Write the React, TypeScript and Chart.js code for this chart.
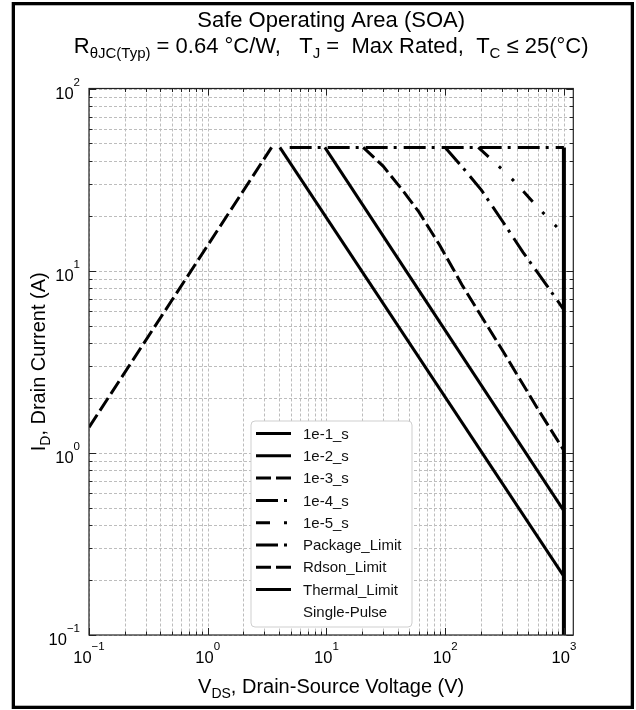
import { useEffect, useRef } from 'react';
import { Chart, registerables } from 'chart.js';

Chart.register(...registerables);

const FONT = '"Liberation Sans", Arial, Helvetica, sans-serif';

// Axis extents (log-log)
const V_MIN = 0.1;
const V_MAX = 1200;
const I_MIN = 0.1;
const I_MAX = 100;

// Decade tick labels (powers of ten) and minor steps within a decade
const xTickExponents = [-1, 0, 1, 2, 3];
const yTickExponents = [-1, 0, 1, 2];
const decadeSteps = [1, 2, 3, 4, 5, 6, 7, 8, 9];

// Pulse-width limited curves: drain-source voltage (V) / drain current (A)
const t1e1V = [4.05, 1000];
const t1e1I = [47.5, 0.21];
const t1e2V = [9.7, 1000];
const t1e2I = [47.5, 0.48];
const t1e3V = [20.4, 30, 45, 60, 90, 141, 300, 600, 1000];
const t1e3I = [47.5, 37.5, 27, 21, 13.8, 8.2, 3.7, 1.75, 1.03];
const t1e4V = [100, 150, 202, 307, 453, 690, 1000];
const t1e4I = [47.5, 35, 27.7, 18.5, 12.6, 8.6, 6.1];
const t1e5V = [190, 245, 307, 373, 459, 579, 713, 855, 1000];
const t1e5I = [47.5, 40.8, 35.6, 31.4, 27.1, 22.9, 19.9, 17.6, 15.8];

// Boundary limits
const packageV = [4.9, 1000];
const packageI = [47.5, 47.5];
const rdsonV = [0.1, 3.45];
const rdsonI = [1.38, 47.5];
const thermalV = [1000, 1000];
const thermalI = [47.5, 0.1];

const seriesLabels = ['1e-1_s', '1e-2_s', '1e-3_s', '1e-4_s', '1e-5_s', 'Package_Limit', 'Rdson_Limit', 'Thermal_Limit'];
const noteLabel = 'Single-Pulse';

const SOLID: number[] = [];
const DASHED = [15, 5];
const DASHDOT = [22, 6, 3, 7];
const DASHDOTDOT = [14, 14, 3, 15, 3, 14];

const seriesV = [t1e1V, t1e2V, t1e3V, t1e4V, t1e5V, packageV, rdsonV, thermalV];
const seriesI = [t1e1I, t1e2I, t1e3I, t1e4I, t1e5I, packageI, rdsonI, thermalI];
const seriesDash = [SOLID, SOLID, DASHED, DASHDOT, DASHDOTDOT, DASHDOT, DASHED, SOLID];
const seriesWidth = [3, 3, 3, 3, 3, 3, 3, 4];

type Seg = { t: string; s: number; dy?: number };

function measureSegs(ctx: CanvasRenderingContext2D, segs: Seg[]) {
  let w = 0;
  for (const g of segs) {
    ctx.font = `${g.s}px ${FONT}`;
    w += ctx.measureText(g.t).width;
  }
  return w;
}

function drawSegs(ctx: CanvasRenderingContext2D, segs: Seg[], x: number, y: number, align: 'left' | 'center' | 'right') {
  const w = measureSegs(ctx, segs);
  let cx = align === 'left' ? x : align === 'center' ? x - w / 2 : x - w;
  ctx.textAlign = 'left';
  ctx.textBaseline = 'alphabetic';
  for (const g of segs) {
    ctx.font = `${g.s}px ${FONT}`;
    ctx.fillText(g.t, cx, y + (g.dy || 0));
    cx += ctx.measureText(g.t).width;
  }
}

const gridValues = (minExp: number, maxExp: number, lo: number, hi: number) => {
  const out: number[] = [];
  for (let e = minExp; e <= maxExp; e++) {
    for (const m of decadeSteps) {
      const v = m * Math.pow(10, e);
      if (v >= lo * 0.9999 && v <= hi * 1.0001) out.push(v);
    }
  }
  return out;
};

const powerLabel = (e: number): Seg[] => [
  { t: '10', s: 16.5 },
  { t: e < 0 ? '\u2212' + Math.abs(e) : String(e), s: 11.5, dy: -13 },
];

const soaDecor = {
  id: 'soaDecor',
  beforeDatasetsDraw(chart: any) {
    const { ctx, chartArea: a, scales } = chart;
    const xs = scales.x;
    const ys = scales.y;
    ctx.save();
    ctx.fillStyle = '#ffffff';
    ctx.fillRect(a.left, a.top, a.right - a.left, a.bottom - a.top);
    ctx.strokeStyle = '#bdbdbd';
    ctx.lineWidth = 1;
    ctx.setLineDash([3, 2]);
    for (const v of gridValues(-1, 3, V_MIN, V_MAX)) {
      const px = Math.round(xs.getPixelForValue(v)) + 0.5;
      ctx.beginPath();
      ctx.moveTo(px, a.top);
      ctx.lineTo(px, a.bottom);
      ctx.stroke();
    }
    for (const v of gridValues(-1, 2, I_MIN, I_MAX)) {
      const py = Math.round(ys.getPixelForValue(v)) + 0.5;
      ctx.beginPath();
      ctx.moveTo(a.left, py);
      ctx.lineTo(a.right, py);
      ctx.stroke();
    }
    ctx.restore();
  },
  afterDraw(chart: any) {
    const { ctx, chartArea: a, scales } = chart;
    const xs = scales.x;
    const ys = scales.y;
    ctx.save();
    ctx.setLineDash([]);

    // Spines
    ctx.strokeStyle = '#222222';
    ctx.lineWidth = 1.2;
    ctx.strokeRect(a.left, a.top, a.right - a.left, a.bottom - a.top);

    // Inward ticks on all four sides
    ctx.lineWidth = 1;
    for (const v of gridValues(-1, 3, V_MIN, V_MAX)) {
      const major = Math.abs(Math.log10(v) - Math.round(Math.log10(v))) < 1e-6;
      const len = major ? 7 : 3.5;
      const px = Math.round(xs.getPixelForValue(v)) + 0.5;
      ctx.beginPath();
      ctx.moveTo(px, a.bottom);
      ctx.lineTo(px, a.bottom - len);
      ctx.moveTo(px, a.top);
      ctx.lineTo(px, a.top + len);
      ctx.stroke();
    }
    for (const v of gridValues(-1, 2, I_MIN, I_MAX)) {
      const major = Math.abs(Math.log10(v) - Math.round(Math.log10(v))) < 1e-6;
      const len = major ? 7 : 3.5;
      const py = Math.round(ys.getPixelForValue(v)) + 0.5;
      ctx.beginPath();
      ctx.moveTo(a.left, py);
      ctx.lineTo(a.left + len, py);
      ctx.moveTo(a.right, py);
      ctx.lineTo(a.right - len, py);
      ctx.stroke();
    }

    // Decade labels
    ctx.fillStyle = '#000000';
    for (const e of xTickExponents) {
      const px = xs.getPixelForValue(Math.pow(10, e));
      drawSegs(ctx, powerLabel(e), px, a.bottom + 28, 'center');
    }
    for (const e of yTickExponents) {
      const py = ys.getPixelForValue(Math.pow(10, e));
      drawSegs(ctx, powerLabel(e), a.left - 9, py + 10, 'right');
    }

    // Axis titles
    drawSegs(ctx, [
      { t: 'V', s: 20 },
      { t: 'DS', s: 14, dy: 5 },
      { t: ', Drain-Source Voltage (V)', s: 20 },
    ], (a.left + a.right) / 2, a.bottom + 58, 'center');

    ctx.save();
    ctx.translate(45, (a.top + a.bottom) / 2);
    ctx.rotate(-Math.PI / 2);
    drawSegs(ctx, [
      { t: 'I', s: 20 },
      { t: 'D', s: 14, dy: 5 },
      { t: ', Drain Current (A)', s: 20 },
    ], 0, 0, 'center');
    ctx.restore();

    // Title
    const cx = (a.left + a.right) / 2;
    drawSegs(ctx, [{ t: 'Safe Operating Area (SOA)', s: 22 }], cx, 27, 'center');
    drawSegs(ctx, [
      { t: 'R', s: 22 },
      { t: '\u03b8JC(Typ)', s: 15, dy: 5 },
      { t: ' = 0.64 \u00b0C/W,   T', s: 22 },
      { t: 'J', s: 15, dy: 5 },
      { t: ' =  Max Rated,  T', s: 22 },
      { t: 'C', s: 15, dy: 5 },
      { t: ' \u2264 25(\u00b0C)', s: 22 },
    ], cx, 53, 'center');

    // Legend
    const lx = 251, ly = 421, lw = 161, lh = 206, r = 4;
    ctx.beginPath();
    ctx.moveTo(lx + r, ly);
    ctx.arcTo(lx + lw, ly, lx + lw, ly + lh, r);
    ctx.arcTo(lx + lw, ly + lh, lx, ly + lh, r);
    ctx.arcTo(lx, ly + lh, lx, ly, r);
    ctx.arcTo(lx, ly, lx + lw, ly, r);
    ctx.closePath();
    ctx.fillStyle = '#ffffff';
    ctx.fill();
    ctx.strokeStyle = '#cfcfcf';
    ctx.lineWidth = 1;
    ctx.stroke();

    const rowTop = 433.5;
    const rowStep = 22.3;
    const entries = [...seriesLabels, noteLabel];
    entries.forEach((label, i) => {
      const yy = rowTop + i * rowStep;
      if (i < seriesLabels.length) {
        ctx.save();
        ctx.strokeStyle = '#000000';
        ctx.lineWidth = 3;
        ctx.lineCap = 'butt';
        ctx.setLineDash(seriesDash[i]);
        ctx.beginPath();
        ctx.moveTo(256, yy);
        ctx.lineTo(291, yy);
        ctx.stroke();
        ctx.restore();
      }
      ctx.fillStyle = '#111111';
      ctx.font = `15px ${FONT}`;
      ctx.textAlign = 'left';
      ctx.textBaseline = 'middle';
      ctx.fillText(label, 303, yy + 1);
    });

    // Outer frame
    ctx.strokeStyle = '#000000';
    ctx.lineWidth = 3.3;
    ctx.setLineDash([]);
    ctx.strokeRect(13.35, 3.65, 619, 703.7);
    ctx.restore();
  },
};

export default function App() {
  const ref = useRef<HTMLCanvasElement>(null);

  useEffect(() => {
    if (!ref.current) return;
    const datasets = seriesLabels.map((label, i) => ({
      label,
      data: seriesV[i].map((v, k) => ({ x: v, y: seriesI[i][k] })),
      borderColor: '#000000',
      backgroundColor: '#000000',
      borderWidth: seriesWidth[i],
      borderDash: seriesDash[i],
      borderCapStyle: 'butt' as const,
      borderJoinStyle: 'miter' as const,
      pointRadius: 0,
      pointHoverRadius: 0,
      fill: false,
      tension: 0,
    }));

    const chart = new Chart(ref.current, {
      type: 'line',
      data: { datasets },
      options: {
        responsive: false,
        maintainAspectRatio: false,
        animation: false,
        devicePixelRatio: 1,
        layout: { padding: { left: 89, right: 62.7, top: 88.5, bottom: 75 } },
        plugins: {
          legend: { display: false },
          title: { display: false },
          tooltip: { enabled: false },
        },
        scales: {
          x: { type: 'logarithmic', min: V_MIN, max: V_MAX, display: false },
          y: { type: 'logarithmic', min: I_MIN, max: I_MAX, display: false },
        },
      },
      plugins: [soaDecor],
    });
    return () => chart.destroy();
  }, []);

  return (
    <div style={{ position: 'absolute', left: 0, top: 0, width: 636, height: 710, background: '#ffffff' }}>
      <canvas ref={ref} width={636} height={710} style={{ display: 'block', width: 636, height: 710 }} />
    </div>
  );
}
